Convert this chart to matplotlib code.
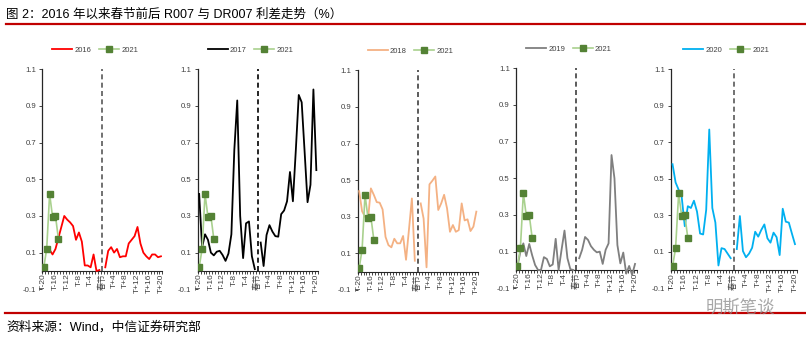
import numpy as np
import matplotlib
matplotlib.use('Agg')
import matplotlib.pyplot as plt

plt.rcParams['font.family'] = ['Liberation Sans', 'Noto Sans CJK SC']

# categories: T-20 ... T-1, spring festival, T+1 ... T+20
tick_labels = ['T-20', 'T-16', 'T-12', 'T-8', 'T-4', '春节',
               'T+4', 'T+8', 'T+12', 'T+16', 'T+20']
n_days = 41
nan = np.nan

y2016 = [nan, 0.115, 0.115, 0.09, 0.12, 0.18, 0.24, 0.30, 0.28, 0.265,
         0.245, 0.17, 0.21, 0.16, 0.03, 0.03, 0.02, 0.09, 0.0, 0.005,
         nan,
         0.02, 0.11, 0.13, 0.10, 0.12, 0.075, 0.08, 0.08, 0.15, 0.17,
         0.19, 0.24, 0.15, 0.10, 0.08, 0.065, 0.09, 0.09, 0.075, 0.08]
y2017 = [0.42, 0.13, 0.20, 0.17, 0.10, 0.085, 0.105, 0.11, 0.087, 0.055,
         0.095, 0.20, 0.66, 0.93, 0.30, 0.07, 0.26, 0.27, 0.08, 0.01,
         nan,
         0.155, 0.027, 0.196, 0.25, 0.215, 0.19, 0.187, 0.31, 0.33, 0.38,
         0.54, 0.38, 0.66, 0.96, 0.92, 0.65, 0.375, 0.47, 0.99, 0.55]
y2018 = [0.44, 0.33, 0.30, 0.28, 0.455, 0.42, 0.38, 0.377, 0.34, 0.19,
         0.145, 0.133, 0.18, 0.155, 0.155, 0.195, 0.065, 0.23, 0.40, 0.06,
         nan,
         0.373, 0.29, 0.024, 0.477, 0.497, 0.52, 0.337, 0.373, 0.42, 0.346,
         0.218, 0.255, 0.218, 0.227, 0.373, 0.28, 0.286, 0.222, 0.246, 0.328]
y2019 = [0.02, 0.10, 0.145, 0.076, 0.142, 0.08, 0.027, 0.0, 0.0, 0.07,
         0.06, 0.02, 0.03, 0.17, 0.0, 0.11, 0.215, 0.064, 0.004, 0.0,
         nan,
         0.064, 0.11, 0.18, 0.164, 0.13, 0.11, 0.096, 0.10, 0.033, 0.11,
         0.145, 0.627, 0.50, 0.136, 0.036, 0.095, -0.02, 0.022, -0.027, 0.033]
y2020 = [0.58, 0.48, 0.44, 0.40, 0.24, 0.35, 0.34, 0.38, 0.32, 0.20,
         0.195, 0.33, 0.77, 0.34, 0.26, 0.025, 0.12, 0.115, 0.09, 0.065,
         nan,
         0.115, 0.296, 0.104, 0.07, 0.09, 0.122, 0.21, 0.183, 0.22, 0.25,
         0.174, 0.15, 0.205, 0.18, 0.082, 0.336, 0.265, 0.26, 0.20, 0.142]
# 2021 so far (first 6 trading days)
y2021 = [0.02, 0.12, 0.42, 0.295, 0.30, 0.175]

years = ['2016', '2017', '2018', '2019', '2020']
series = [y2016, y2017, y2018, y2019, y2020]
colors = ['#FF0000', '#000000', '#F4B183', '#7F7F7F', '#00B0F0']
dash_colors = ['#595959', '#000000', '#404040', '#404040', '#595959']

yticks = [-0.1, 0.1, 0.3, 0.5, 0.7, 0.9, 1.1]

W, H = 806, 344
fig = plt.figure(figsize=(W / 100, H / 100), dpi=100)

# axes boxes in pixels: left, right, top, bottom
boxes = [(42.3, 162.4, 69.3, 289.3),
         (197.7, 317.8, 69.3, 289.3),
         (357.7, 477.8, 70.3, 290.0),
         (516.0, 636.5, 68.3, 288.3),
         (671.0, 796.5, 69.3, 288.3)]

x = np.arange(n_days) + 0.5
tick_pos = x[::4]
txt = '#404040'

for k in range(5):
    l, r, t, b = boxes[k]
    ax = fig.add_axes([l / W, (H - b) / H, (r - l) / W, (b - t) / H])
    ax.plot(x, series[k], color=colors[k], lw=1.3, label=years[k], zorder=3)
    ax.plot(x[:len(y2021)], y2021, color='#A9D18E', lw=1.2, marker='s', ms=3.8,
            mfc='#548235', mec='#548235', label='2021', zorder=4)
    ax.plot([20.5, 20.5], [0, 1.1], color=dash_colors[k], lw=1.2,
            ls=(0, (3, 2)), zorder=2)
    ax.set_xlim(0, n_days)
    ax.set_ylim(-0.1, 1.1)
    ax.set_yticks(yticks)
    ax.set_yticklabels(['%.1f' % v for v in yticks])
    ax.set_xticks(tick_pos)
    ax.set_xticklabels(tick_labels)
    ax.set_xticks(np.arange(n_days + 1), minor=True)
    ax.tick_params(axis='x', which='major', length=0, pad=2, labelsize=6,
                   labelcolor=txt, labelrotation=90)
    for lab in ax.get_xticklabels():
        lab.set_va('top')
        lab.set_ha('center')
    ax.tick_params(axis='x', which='minor', length=2, width=0.6, color='#262626',
                   direction='out')
    ax.tick_params(axis='y', length=2, width=0.6, pad=2.5, labelsize=5.6,
                   labelcolor=txt, color='#262626')
    for s in ['top', 'right']:
        ax.spines[s].set_visible(False)
    ax.spines['bottom'].set_position(('data', 0))
    ax.spines['bottom'].set_color('#262626')
    ax.spines['bottom'].set_linewidth(0.8)
    ax.spines['left'].set_color('#262626')
    ax.spines['left'].set_linewidth(0.9)
    ax.spines['left'].set_bounds(-0.005, 1.1)
    ax.patch.set_alpha(0)
    ax.legend(loc='center', bbox_to_anchor=(0.44, 1.088), ncol=2, frameon=False,
              fontsize=5.5, handlelength=2.6, columnspacing=1.0,
              handletextpad=0.3, labelcolor=txt)

# title and rules
fig.text(6 / W, 1 - 14.5 / H, '图 2：2016 年以来春节前后 R007 与 DR007 利差走势（%）',
         fontsize=9.0, va='center', ha='left', color='#000000')
fig.add_artist(plt.Line2D([6 / W, 1], [1 - 24 / H] * 2, color='#C00000', lw=1.6))
fig.add_artist(plt.Line2D([5 / W, 1], [1 - 313 / H] * 2, color='#C00000', lw=1.6))
fig.text(6 / W, 1 - 327 / H, '资料来源：Wind，中信证券研究部', fontsize=9.2,
         va='center', ha='left', color='#000000')
fig.text(740 / W, 1 - 307 / H, '明斯笔谈', fontsize=12.5, va='center', ha='center',
         color='#8a8a8a', alpha=0.75)

fig.savefig('out.png', dpi=100)
